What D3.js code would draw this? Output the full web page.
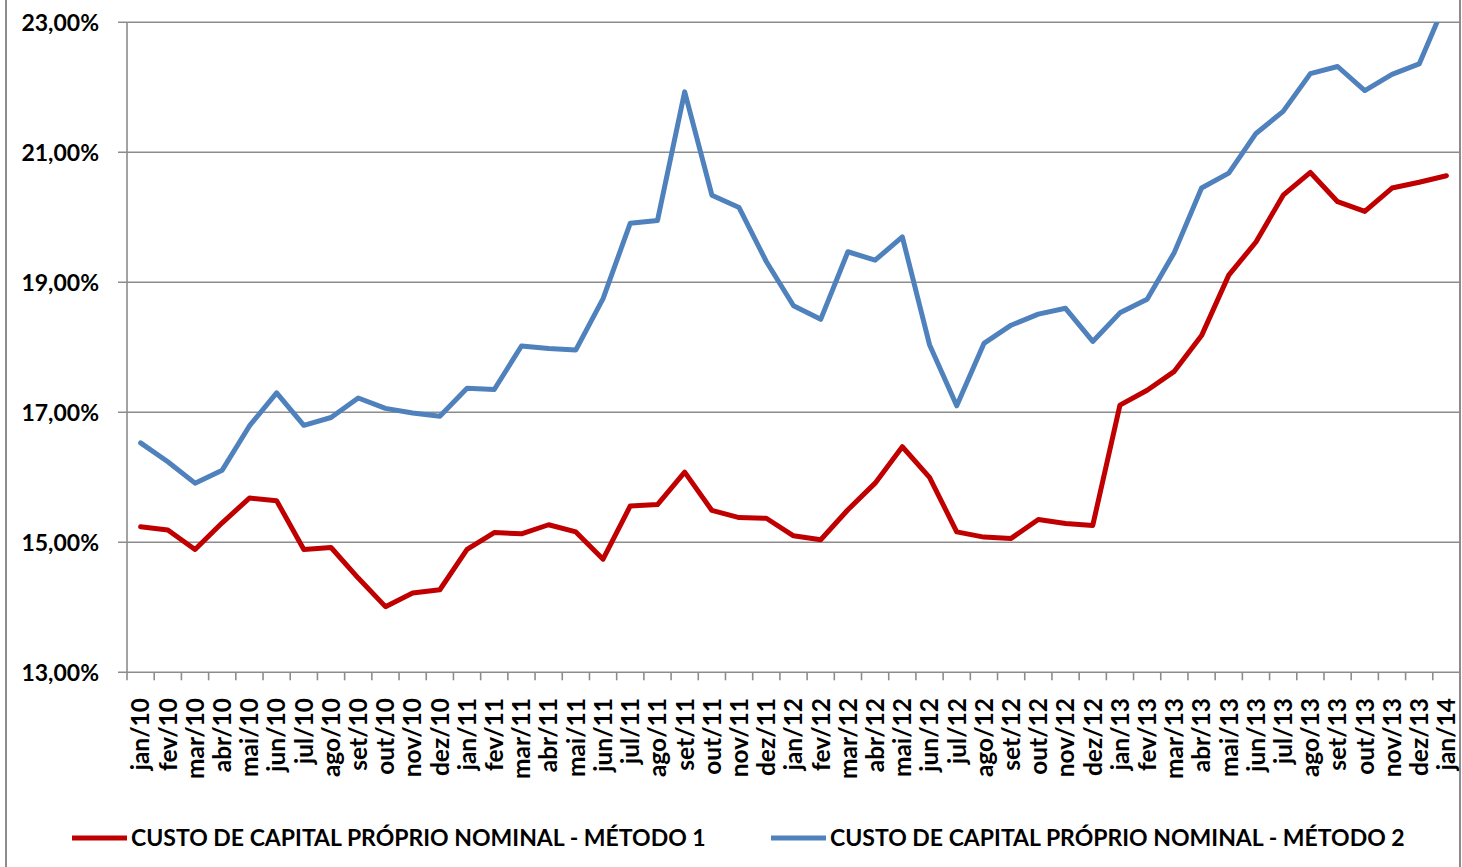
<!DOCTYPE html>
<html>
<head>
<meta charset="utf-8">
<script src="https://cdn.jsdelivr.net/npm/d3@7"></script>
<style>
  html, body { margin: 0; padding: 0; background: #fff; }
  svg { display: block; }
  text { font-family: Lato, "Open Sans", sans-serif; font-weight: 700; fill: #000; }
</style>
</head>
<body>
<svg id="chart" width="1462" height="867"></svg>
<script>
const categories = [
  "jan/10","fev/10","mar/10","abr/10","mai/10","jun/10","jul/10","ago/10","set/10","out/10","nov/10","dez/10",
  "jan/11","fev/11","mar/11","abr/11","mai/11","jun/11","jul/11","ago/11","set/11","out/11","nov/11","dez/11",
  "jan/12","fev/12","mar/12","abr/12","mai/12","jun/12","jul/12","ago/12","set/12","out/12","nov/12","dez/12",
  "jan/13","fev/13","mar/13","abr/13","mai/13","jun/13","jul/13","ago/13","set/13","out/13","nov/13","dez/13",
  "jan/14"
];
const metodo1 = [
  15.24,15.19,14.89,15.30,15.68,15.64,14.89,14.92,14.45,14.01,14.22,14.27,
  14.89,15.15,15.13,15.27,15.16,14.74,15.56,15.58,16.08,15.49,15.38,15.37,
  15.10,15.04,15.50,15.91,16.47,16.00,15.16,15.08,15.06,15.35,15.29,15.26,
  17.11,17.34,17.63,18.18,19.11,19.62,20.34,20.69,20.24,20.09,20.45,20.54,
  20.64
];
const metodo2 = [
  16.53,16.24,15.91,16.11,16.79,17.30,16.80,16.92,17.22,17.06,16.99,16.94,
  17.37,17.35,18.02,17.98,17.96,18.75,19.91,19.95,21.93,20.34,20.15,19.32,
  18.64,18.43,19.47,19.34,19.70,18.04,17.10,18.06,18.34,18.51,18.60,18.09,
  18.53,18.74,19.46,20.45,20.68,21.29,21.63,22.21,22.32,21.95,22.20,22.36,
  23.34
];
const yTicks = [13, 15, 17, 19, 21, 23];
const seriesNames = [
  "CUSTO DE CAPITAL PRÓPRIO NOMINAL - MÉTODO 1",
  "CUSTO DE CAPITAL PRÓPRIO NOMINAL - MÉTODO 2"
];
const seriesColors = ["#C00000", "#4F81BD"];

const svg = d3.select("#chart");
const plot = { left: 127, right: 1460, top: 22.3, bottom: 672.3 };

const x = d3.scaleBand().domain(categories).range([plot.left, plot.right]).padding(0);
const y = d3.scaleLinear().domain([13, 23]).range([plot.bottom, plot.top]);
const xc = c => x(c) + x.bandwidth() / 2;

// outer chart border (left & right)
svg.append("line").attr("x1", 6).attr("x2", 6).attr("y1", 0).attr("y2", 867)
  .attr("stroke", "#8c8c8c").attr("stroke-width", 2);
svg.append("line").attr("x1", 1460).attr("x2", 1460).attr("y1", 0).attr("y2", 867)
  .attr("stroke", "#8c8c8c").attr("stroke-width", 2);

// gridlines
svg.append("g").selectAll("line").data(yTicks).join("line")
  .attr("x1", plot.left - 9).attr("x2", plot.right)
  .attr("y1", d => y(d)).attr("y2", d => y(d))
  .attr("stroke", "#8c8c8c").attr("stroke-width", 1.6);

// y axis line
svg.append("line").attr("x1", plot.left).attr("x2", plot.left)
  .attr("y1", y(23)).attr("y2", y(13))
  .attr("stroke", "#8c8c8c").attr("stroke-width", 1.6);

// y labels
const fmt = d => d3.format(".2f")(d).replace(".", ",") + "%";
svg.append("g").selectAll("text").data(yTicks).join("text")
  .attr("x", 99).attr("y", d => y(d)).attr("dy", "0.36em")
  .attr("text-anchor", "end").style("font-size", "23px")
  .text(fmt);

// x ticks at category boundaries
const boundaries = categories.map(c => x(c));
svg.append("g").selectAll("line").data(boundaries).join("line")
  .attr("x1", d => d).attr("x2", d => d)
  .attr("y1", y(13)).attr("y2", y(13) + 8)
  .attr("stroke", "#8c8c8c").attr("stroke-width", 1.6);

// x labels
svg.append("g").selectAll("text").data(categories).join("text")
  .attr("transform", c => `translate(${xc(c)},698) rotate(-90)`)
  .attr("text-anchor", "end").attr("dy", "0.36em")
  .style("font-size", "24.5px")
  .text(c => c);

// clip
svg.append("clipPath").attr("id", "clip").append("rect")
  .attr("x", plot.left).attr("y", plot.top)
  .attr("width", plot.right - plot.left).attr("height", plot.bottom - plot.top);

const line = d3.line().x((d, i) => xc(categories[i])).y(d => y(d));
const g = svg.append("g").attr("clip-path", "url(#clip)");
[metodo1, metodo2].forEach((s, k) => {
  g.append("path").datum(s).attr("d", line)
    .attr("fill", "none").attr("stroke", seriesColors[k])
    .attr("stroke-width", 5).attr("stroke-linejoin", "round").attr("stroke-linecap", "round");
});

// legend
const legendItems = [
  { x1: 72, x2: 127, tx: 131 },
  { x1: 771, x2: 826, tx: 830 }
];
legendItems.forEach((l, k) => {
  svg.append("line").attr("x1", l.x1).attr("x2", l.x2).attr("y1", 838).attr("y2", 838)
    .attr("stroke", seriesColors[k]).attr("stroke-width", 5);
  svg.append("text").attr("x", l.tx).attr("y", 838).attr("dy", "0.36em")
    .style("font-size", "23px").text(seriesNames[k]);
});
</script>
</body>
</html>
